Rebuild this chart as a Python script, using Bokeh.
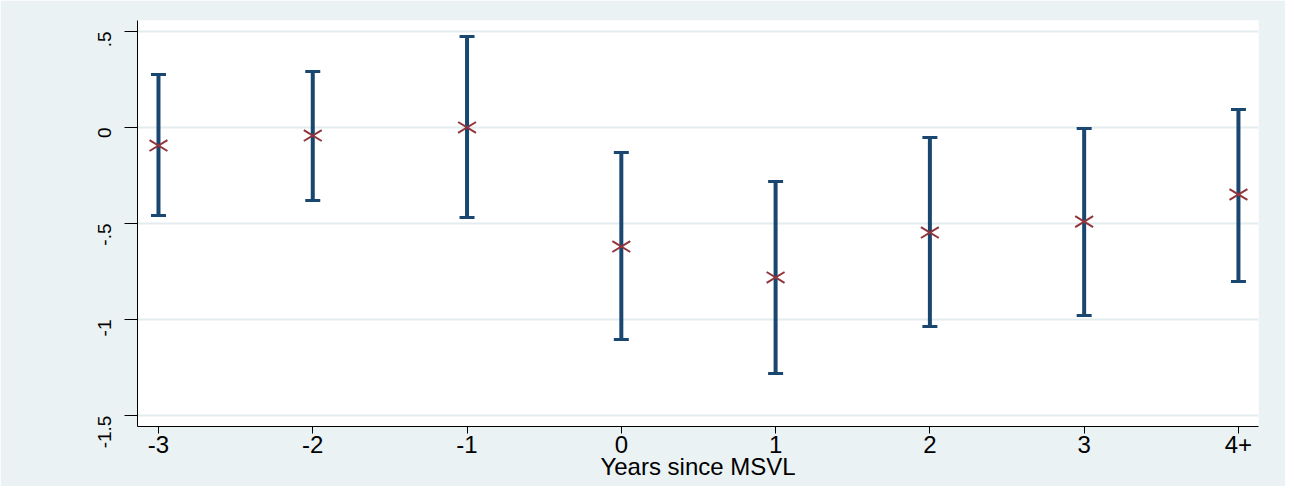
import math
from bokeh.plotting import figure
from bokeh.models import ColumnDataSource, Whisker, TeeHead, FixedTicker, Range1d
from bokeh.embed import file_html
from bokeh.resources import INLINE

# ---- data ----
categories = ["-3", "-2", "-1", "0", "1", "2", "3", "4+"]
estimates = [-0.094, -0.042, 0.000, -0.620, -0.781, -0.547, -0.490, -0.349]
upper_ci = [0.276, 0.292, 0.474, -0.130, -0.281, -0.052, -0.005, 0.094]
lower_ci = [-0.458, -0.380, -0.469, -1.104, -1.281, -1.036, -0.979, -0.802]
y_ticks = [-1.5, -1.0, -0.5, 0.0, 0.5]
y_tick_labels = ["-1.5", "-1", "-.5", "0", ".5"]
x_title = "Years since MSVL"

xpos = list(range(len(categories)))
src = ColumnDataSource(dict(x=xpos, est=estimates, upper=upper_ci, lower=lower_ci))

BG = "#EAF2F3"
NAVY = "#1A476F"
MAROON = "#90353B"
FONT = "Liberation Sans"

p = figure(width=1285, height=486, output_backend="svg", toolbar_location=None,
           x_range=Range1d(-0.136, 7.13), y_range=Range1d(-1.557, 0.557),
           min_border_left=137, min_border_top=20, min_border_right=27, min_border_bottom=60)
p.background_fill_color = "white"
p.border_fill_color = BG
p.outline_line_color = None

whisk = Whisker(source=src, base="x", upper="upper", lower="lower",
                line_color=NAVY, line_width=4,
                upper_head=TeeHead(size=15, line_color=NAVY, line_width=3),
                lower_head=TeeHead(size=15, line_color=NAVY, line_width=3))
p.add_layout(whisk)

ang = math.atan2(11, 18)
p.scatter("x", "est", source=src, marker="dash", size=21, angle=ang,
          line_color=MAROON, line_width=2)
p.scatter("x", "est", source=src, marker="dash", size=21, angle=-ang,
          line_color=MAROON, line_width=2)

# x axis
p.xaxis.ticker = FixedTicker(ticks=xpos)
p.xaxis.major_label_overrides = {i: c for i, c in enumerate(categories)}
p.xaxis.axis_label = x_title
p.xaxis.axis_label_text_font = FONT
p.xaxis.axis_label_text_font_style = "normal"
p.xaxis.axis_label_text_font_size = "24px"
p.xaxis.axis_label_standoff = -3
p.xaxis.major_label_text_font = FONT
p.xaxis.major_label_text_font_size = "24px"
p.xaxis.major_label_standoff = 2
p.xaxis.major_tick_out = 7
p.xaxis.major_tick_in = 0
p.xaxis.minor_tick_line_color = None

# y axis
p.yaxis.ticker = FixedTicker(ticks=y_ticks)
p.yaxis.major_label_overrides = {t: l for t, l in zip(y_ticks, y_tick_labels)}
p.yaxis.major_label_orientation = math.pi / 2
p.yaxis.major_label_text_font = FONT
p.yaxis.major_label_text_font_size = "19px"
p.yaxis.major_label_standoff = 20
p.yaxis.major_tick_out = 13
p.yaxis.major_tick_in = 0
p.yaxis.minor_tick_line_color = None

for ax in (p.xaxis, p.yaxis):
    ax.axis_line_color = "black"
    ax.major_tick_line_color = "black"
    ax.major_label_text_color = "black"
    ax.axis_label_text_color = "black"

p.xgrid.grid_line_color = None
p.ygrid.grid_line_color = "#E3ECEE"
p.ygrid.grid_line_width = 2

open("out.html", "w").write(file_html(p, INLINE))
